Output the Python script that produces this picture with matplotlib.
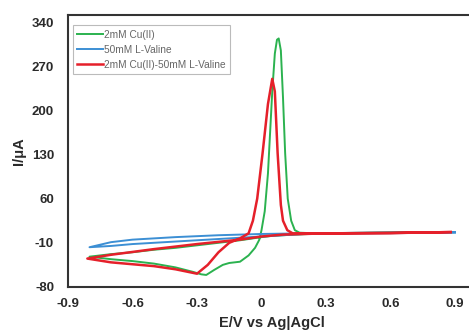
import matplotlib
matplotlib.use("Agg")
import matplotlib.pyplot as plt

plt.rcParams['font.family'] = ['Liberation Sans', 'DejaVu Sans']
plt.rcParams['axes.unicode_minus'] = False

# Cu(II) alone (green)
cu_E = [0.9, 0.6, 0.3, 0.15, 0.05, 0.0, -0.1, -0.2, -0.3, -0.4, -0.5, -0.6, -0.7, -0.8,
        -0.7, -0.6, -0.5, -0.4, -0.32, -0.28, -0.257, -0.22, -0.18, -0.15, -0.1, -0.06, -0.03,
        -0.01, 0.0, 0.015, 0.03, 0.05, 0.062, 0.072, 0.08, 0.09, 0.1, 0.11, 0.122, 0.138, 0.155,
        0.177, 0.25, 0.5, 0.9]
cu_I = [7, 6, 5, 3, 1, -1, -6, -10, -14, -18, -21, -25, -28, -32,
        -36, -39, -43, -49, -56, -60, -61, -53, -45, -42, -40, -30, -18,
        -5, 10, 40, 100, 230, 290, 312, 314, 295, 220, 132, 60, 25, 10,
        6, 5, 6, 7]

# L-Valine alone (blue)
val_E = [0.9, 0.5, 0.2, 0.0, -0.2, -0.4, -0.6, -0.7, -0.8,
         -0.7, -0.6, -0.4, -0.2, 0.0, 0.2, 0.5, 0.9]
val_I = [6, 5, 4, 0, -4, -8, -12, -15, -17,
         -9, -5, -1, 2, 4, 5, 6, 7]

# Cu(II) + L-Valine (red)
mix_E = [0.88, 0.6, 0.3, 0.1, 0.0, -0.1, -0.3, -0.5, -0.7, -0.81,
         -0.7, -0.6, -0.5, -0.4, -0.3, -0.25, -0.2, -0.15, -0.1, -0.06, -0.04,
         -0.02, 0.005, 0.03, 0.05, 0.062, 0.075, 0.09, 0.1, 0.12, 0.145, 0.3, 0.6, 0.88]
mix_I = [7, 5.5, 5, 3, 0, -5, -12, -20, -29, -35,
         -41, -44, -47, -52, -59, -45, -25, -10, -3, 5, 25,
         60, 132, 210, 250, 230, 132, 50, 25, 10, 5, 5, 5.5, 7]

labels = ["2mM Cu(II)", "50mM L-Valine", "2mM Cu(II)-50mM L-Valine"]
colors = ["#2bb24f", "#3c8fd4", "#e5202a"]

x_ticks = [-0.9, -0.6, -0.3, 0, 0.3, 0.6, 0.9]
x_ticklabels = ["-0.9", "-0.6", "-0.3", "0", "0.3", "0.6", "0.9"]
y_ticks = [-80, -10, 60, 130, 200, 270, 340]

fig = plt.figure(figsize=(4.69, 3.36), dpi=100)
ax = fig.add_axes([0.145, 0.146, 0.871, 0.809])

ax.plot(cu_E, cu_I, color=colors[0], lw=1.4, label=labels[0])
ax.plot(val_E, val_I, color=colors[1], lw=1.4, label=labels[1])
ax.plot(mix_E, mix_I, color=colors[2], lw=1.8, label=labels[2])

ax.set_xlim(-0.9, 1.0)
ax.set_ylim(-80, 351)
ax.set_xticks(x_ticks)
ax.set_xticklabels(x_ticklabels)
ax.set_yticks(y_ticks)
ax.tick_params(axis="both", length=0, labelsize=9.5, labelcolor="#2a2a2a")
ax.tick_params(axis="y", pad=10)
ax.tick_params(axis="x", pad=8)
for lab in ax.get_xticklabels() + ax.get_yticklabels():
    lab.set_fontweight("bold")
for s in ax.spines.values():
    s.set_linewidth(1.5)
    s.set_color("#333333")

ax.set_xlabel("E/V vs Ag|AgCl", fontsize=10.5, fontweight="bold", color="#2a2a2a", labelpad=4)
ax.set_ylabel("I/\u03bcA", fontsize=10.5, fontweight="bold", color="#2a2a2a", labelpad=4)

leg = ax.legend(loc="upper left", fontsize=7.3, frameon=True, fancybox=False,
                edgecolor="#aaaaaa", handlelength=2.6, handletextpad=0.1,
                bbox_to_anchor=(0.003, 0.975), borderaxespad=0.35,
                labelspacing=0.5, borderpad=0.4)
leg.get_frame().set_linewidth(0.8)
for t in leg.get_texts():
    t.set_color("#666666")

fig.savefig("out.png", dpi=100)
